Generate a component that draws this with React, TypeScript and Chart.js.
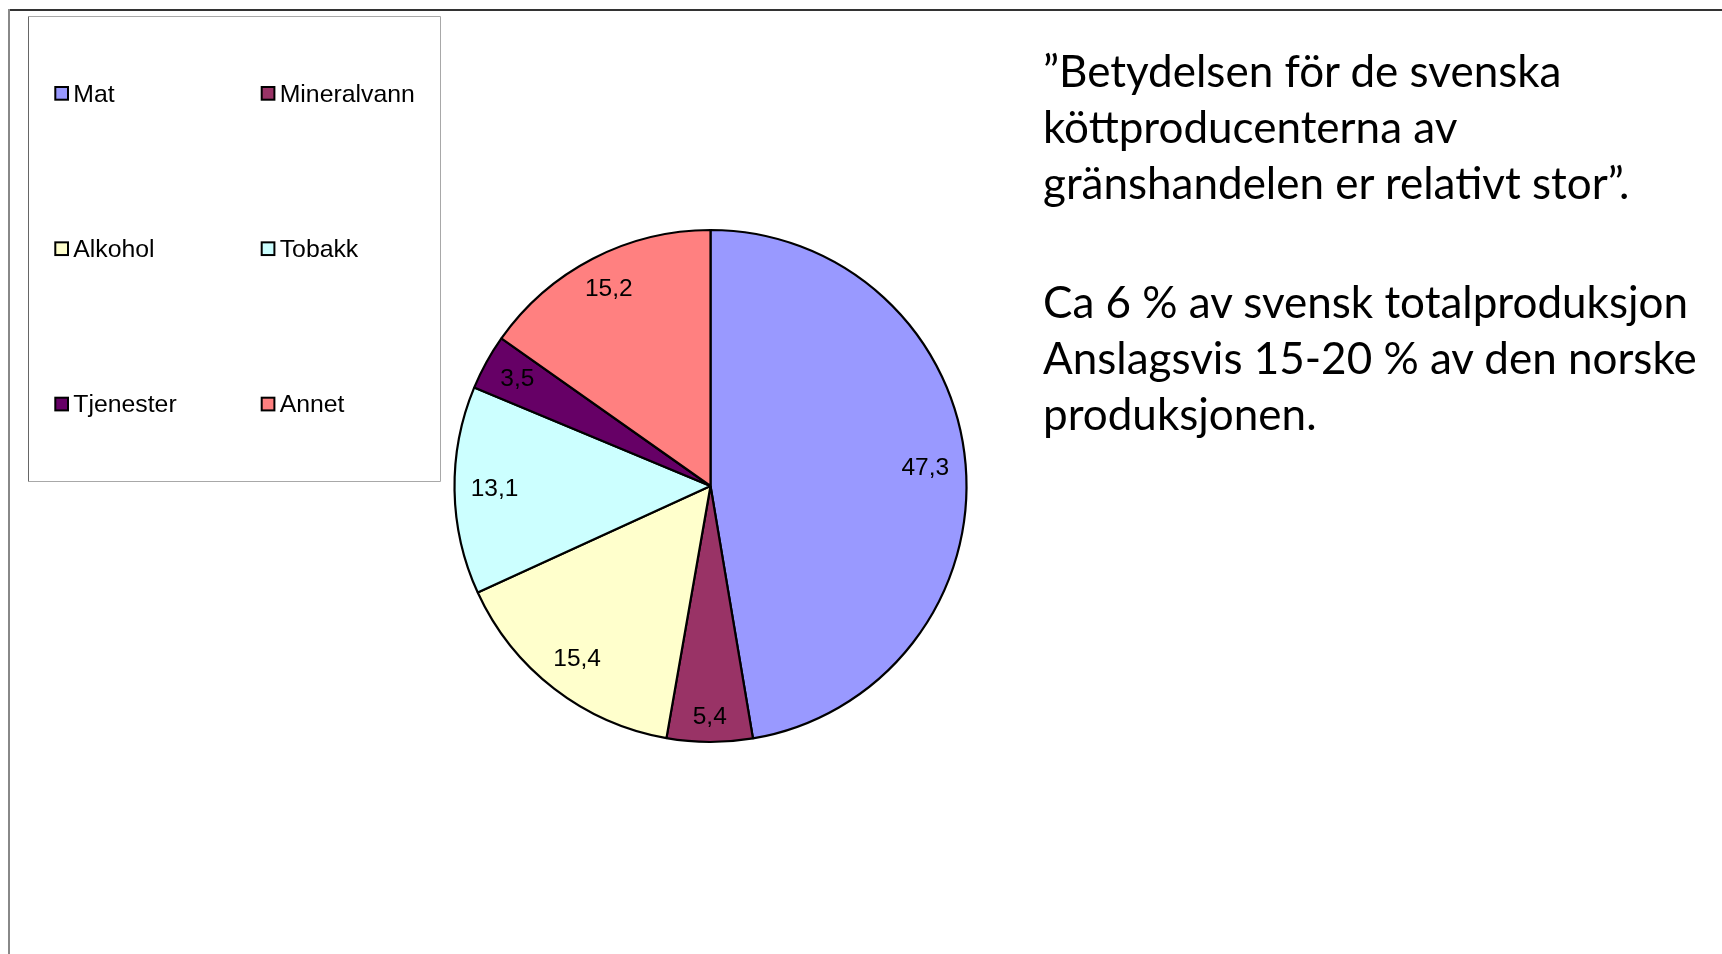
import React, { useEffect, useRef } from "react";
import { Chart, registerables } from "chart.js";

Chart.register(...registerables);

// ---- data ----
const categories = ["Mat", "Mineralvann", "Alkohol", "Tobakk", "Tjenester", "Annet"];
const shares = [47.3, 5.4, 15.4, 13.1, 3.5, 15.2];
const sliceColors = ["#9999FF", "#993366", "#FFFFCC", "#CCFFFF", "#660066", "#FF8080"];
const quoteLines = [
  "\u201DBetydelsen för de svenska",
  "köttproducenterna av",
  "gränshandelen er relativt stor\u201D.",
];
const noteLines = [
  "Ca 6 % av svensk totalproduksjon",
  "Anslagsvis 15-20 % av den norske",
  "produksjonen.",
];

const W = 1722;
const H = 954;
const ARIAL = '"Liberation Sans", Arial, sans-serif';

const fmt = (v: number) => v.toFixed(1).replace(".", ",");

const sliceLabels = {
  id: "sliceLabels",
  afterDatasetsDraw(chart: any) {
    const ctx = chart.ctx;
    const meta = chart.getDatasetMeta(0);
    const data = chart.data.datasets[0].data as number[];
    ctx.save();
    ctx.font = `24.5px ${ARIAL}`;
    ctx.fillStyle = "#000";
    ctx.textAlign = "center";
    ctx.textBaseline = "middle";
    meta.data.forEach((arc: any, i: number) => {
      const p = arc.getProps(["x", "y", "startAngle", "endAngle", "outerRadius"], true);
      const mid = (p.startAngle + p.endAngle) / 2;
      const txt = fmt(data[i]);
      const w = ctx.measureText(txt).width;
      const h = 18;
      const c = Math.cos(mid);
      const s = Math.sin(mid);
      const d = p.outerRadius - 16 - (Math.abs(c) * w / 2 + Math.abs(s) * h / 2);
      ctx.fillText(txt, p.x + c * d, p.y + s * d);
    });
    ctx.restore();
  },
};

const boxLegend = {
  id: "boxLegend",
  afterDraw(chart: any) {
    const ctx = chart.ctx;
    const labels = chart.data.labels as string[];
    const colors = chart.data.datasets[0].backgroundColor as string[];
    ctx.save();
    // frame of the legend
    ctx.lineWidth = 1;
    ctx.strokeStyle = "#a8a8a8";
    ctx.beginPath();
    ctx.moveTo(28.5, 16.5);
    ctx.lineTo(440.5, 16.5);
    ctx.lineTo(440.5, 481.5);
    ctx.lineTo(28.5, 481.5);
    ctx.stroke();
    ctx.strokeStyle = "#666";
    ctx.beginPath();
    ctx.moveTo(28.5, 16.5);
    ctx.lineTo(28.5, 481.5);
    ctx.stroke();

    ctx.font = `24.8px ${ARIAL}`;
    ctx.textBaseline = "alphabetic";
    ctx.textAlign = "left";
    labels.forEach((lab, i) => {
      const col = i % 2;
      const row = Math.floor(i / 2);
      const sx = 55.3 + col * 206.4;
      const sy = 87 + row * 155.35;
      const sz = 12.7;
      ctx.fillStyle = colors[i];
      ctx.fillRect(sx, sy, sz, sz);
      ctx.lineWidth = 2;
      ctx.strokeStyle = "#000";
      ctx.strokeRect(sx, sy, sz, sz);
      ctx.fillStyle = "#000";
      ctx.fillText(lab, sx + 18, sy + 14.7);
    });
    ctx.restore();
  },
};

export default function App() {
  const ref = useRef<HTMLCanvasElement | null>(null);

  useEffect(() => {
    if (!ref.current) return;
    const chart = new Chart(ref.current, {
      type: "pie",
      data: {
        labels: categories,
        datasets: [
          {
            data: shares,
            backgroundColor: sliceColors,
            borderColor: "#000",
            borderWidth: 2.2,
          },
        ],
      },
      options: {
        animation: false,
        responsive: false,
        devicePixelRatio: 1,
        radius: 256,
        layout: { padding: { left: 150, right: 451, top: 18, bottom: 0 } },
        plugins: {
          legend: { display: false },
          tooltip: { enabled: false },
          title: { display: false },
        },
      } as any,
      plugins: [sliceLabels, boxLegend],
    });
    return () => chart.destroy();
  }, []);

  const textStyle: React.CSSProperties = {
    position: "absolute",
    left: 1043,
    fontFamily: "Lato, 'Open Sans', sans-serif",
    fontSize: 44,
    lineHeight: "56px",
    color: "#000",
    whiteSpace: "pre",
  };

  return (
    <div
      style={{
        position: "fixed",
        left: 0,
        top: 0,
        width: W,
        height: H,
        overflow: "hidden",
        background: "#fff",
      }}
    >
      <div style={{ position: "absolute", left: 8, top: 9, width: W - 8, height: 2, background: "#333" }} />
      <div style={{ position: "absolute", left: 8, top: 9, width: 2, height: H - 9, background: "#888" }} />
      <canvas ref={ref} width={W} height={H} style={{ position: "absolute", left: 0, top: 0, width: W, height: H }} />
      <div style={{ ...textStyle, top: 42 }}>{quoteLines.join("\n")}</div>
      <div style={{ ...textStyle, top: 273 }}>{noteLines.join("\n")}</div>
    </div>
  );
}
